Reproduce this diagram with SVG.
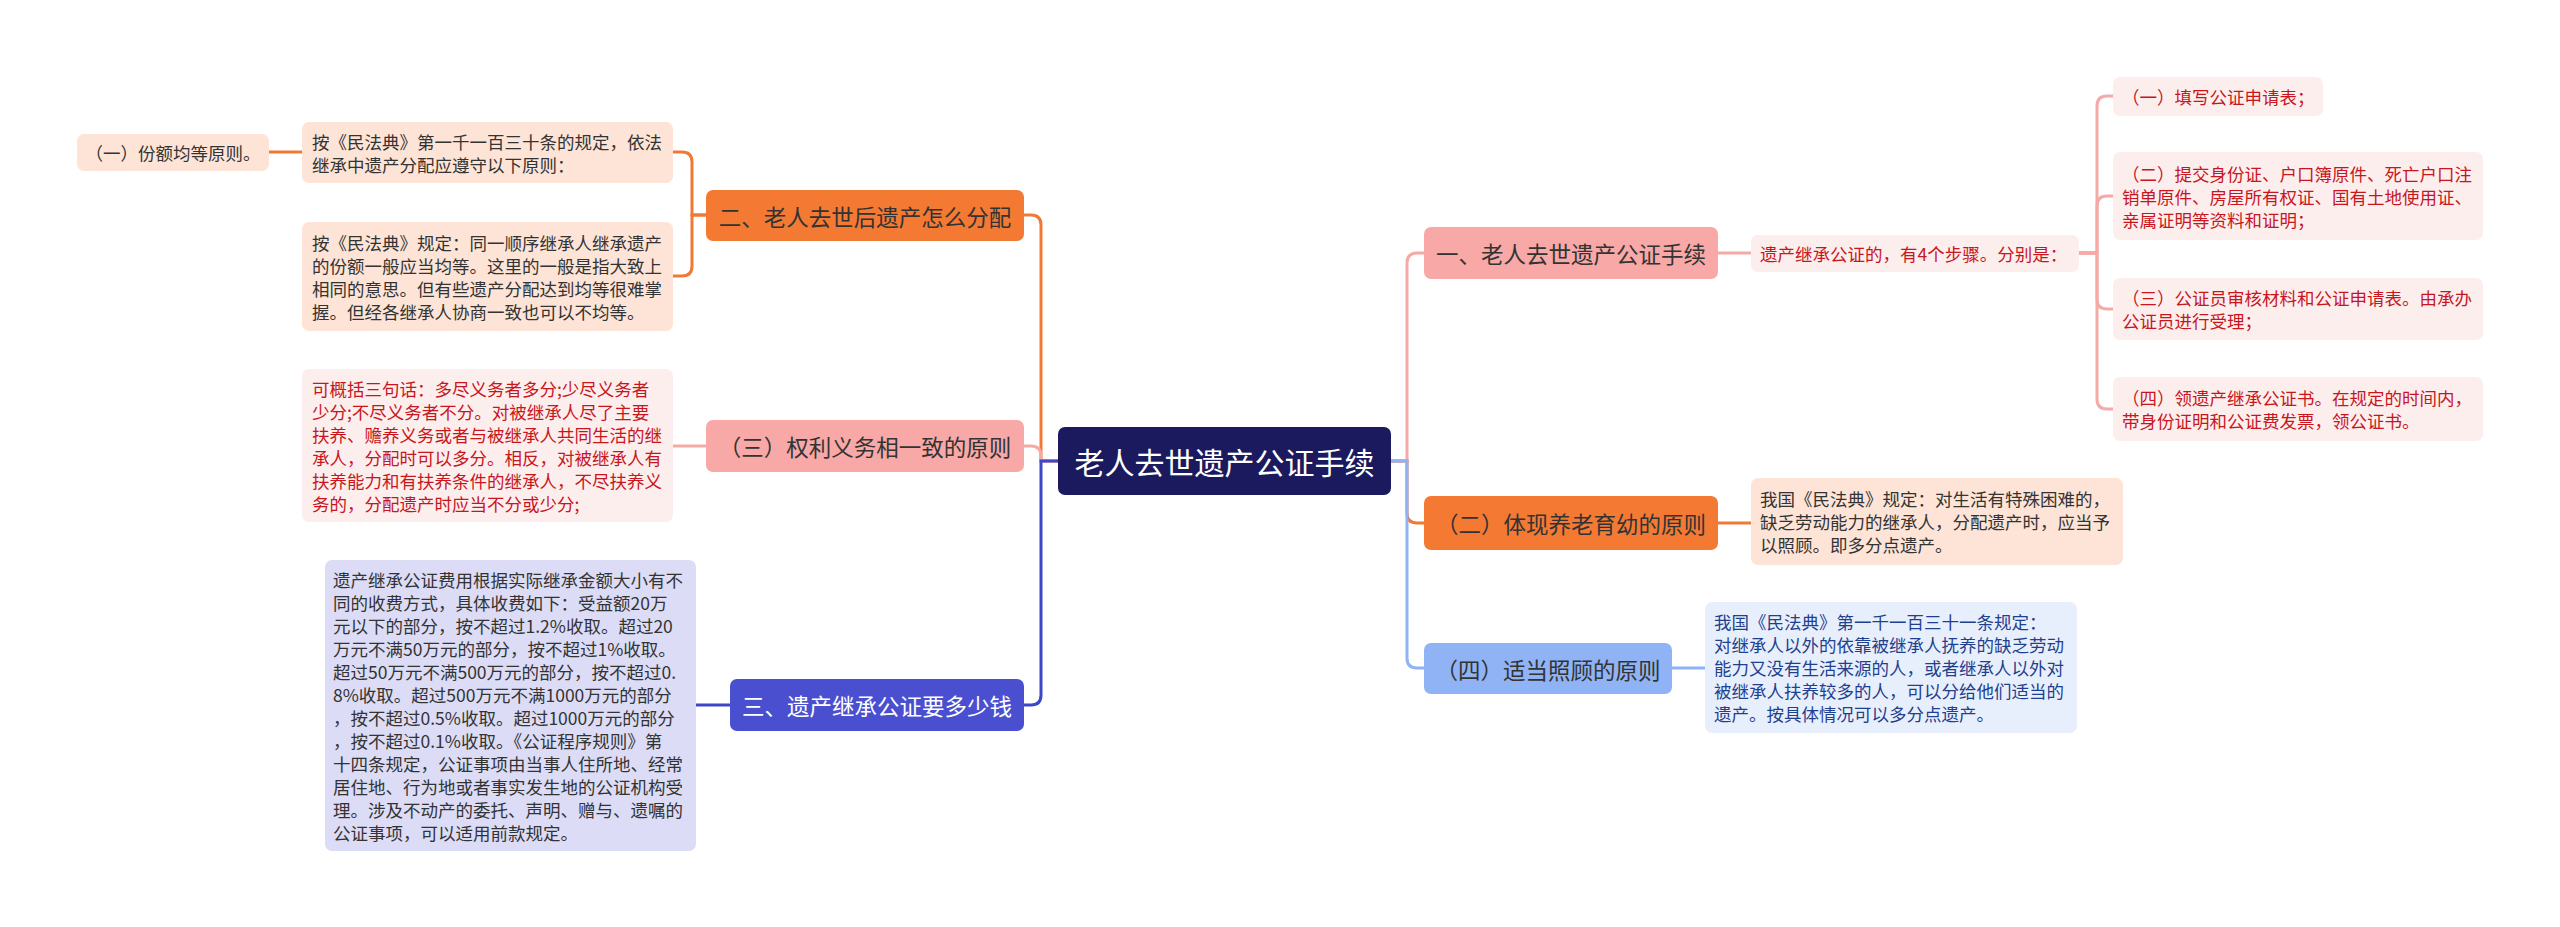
<svg xmlns="http://www.w3.org/2000/svg" width="2560" height="927" viewBox="0 0 2560 927">
<style>
text{font-family:"Noto Sans CJK SC","Noto Sans",sans-serif;dominant-baseline:central}
.root{font-size:30px;fill:#fff;text-anchor:middle}
.br{font-size:22.5px;fill:#333;text-anchor:middle}
.brw{font-size:22.5px;fill:#fff;text-anchor:middle}
.lf{font-size:17.5px;fill:#333}
.lr{font-size:17.5px;fill:#c7161d}
.lb{font-size:17.5px;fill:#1f3f8f}
.c{fill:none;stroke-width:3;stroke-linecap:round}
.co{stroke:#f07a35}.cp{stroke:#f6aaa8}.cb{stroke:#3f46c8}.cl{stroke:#8fb3f5}
.peach{fill:#fde4d6}.lpink{fill:#fdeeee}.lav{fill:#dcdcf6}.lblue{fill:#e8effc}
</style>
<rect width="2560" height="927" fill="#fff"/>
<g id="connectors">
<path class="c co" d="M1058,461 H1041 V225 Q1041,215 1031,215 H1024"/>
<path class="c cp" d="M1058,461 H1041 V456 Q1041,446 1031,446 H1024"/>
<path class="c cb" d="M1058,461 H1041 V695 Q1041,705 1031,705 H1024"/>
<path class="c cp" d="M1391,461 H1407 V263 Q1407,253 1417,253 H1424"/>
<path class="c co" d="M1391,461 H1407 V513 Q1407,523 1417,523 H1424"/>
<path class="c cl" d="M1391,461 H1407 V658 Q1407,668 1417,668 H1424"/>
<path class="c co" d="M706,215 H692 V162 Q692,152 682,152 H673"/>
<path class="c co" d="M706,215 H692 V266 Q692,276 682,276 H673"/>
<path class="c co" d="M302,152 H269"/>
<path class="c cp" d="M706,446 H673"/>
<path class="c cb" d="M730,705 H696"/>
<path class="c cp" d="M1718,253 H1751"/>
<path class="c cp" d="M2079,253 H2097 V106 Q2097,96 2107,96 H2113"/>
<path class="c cp" d="M2079,253 H2097 V206 Q2097,196 2107,196 H2113"/>
<path class="c cp" d="M2079,253 H2097 V299 Q2097,309 2107,309 H2113"/>
<path class="c cp" d="M2079,253 H2097 V399 Q2097,409 2107,409 H2113"/>
<path class="c co" d="M1718,523 H1751"/>
<path class="c cl" d="M1672,668 H1705"/>
</g>
<g id="root">
<rect x="1058" y="427" width="333" height="68" rx="7" fill="#1c1a5e"/>
<text class="root" x="1224.5" y="461">老人去世遗产公证手续</text>
</g>
<g id="b1">
<rect x="706" y="190" width="318" height="51" rx="7" fill="#f47a33"/>
<text class="br" x="865" y="215.5">二、老人去世后遗产怎么分配</text>
</g>
<g id="b1a">
<rect class="peach" x="302" y="122" width="371" height="61" rx="7"/>
<text class="lf" x="312" y="141">按《民法典》第一千一百三十条的规定，依法</text>
<text class="lf" x="312" y="164">继承中遗产分配应遵守以下原则：</text>
</g>
<g id="b1a1">
<rect class="peach" x="77" y="134" width="192" height="37" rx="7"/>
<text class="lf" x="173" y="152.5" text-anchor="middle">（一）份额均等原则。</text>
</g>
<g id="b1b">
<rect class="peach" x="302" y="222" width="371" height="109" rx="7"/>
<text class="lf" x="312" y="242">按《民法典》规定：同一顺序继承人继承遗产</text>
<text class="lf" x="312" y="265">的份额一般应当均等。这里的一般是指大致上</text>
<text class="lf" x="312" y="288">相同的意思。但有些遗产分配达到均等很难掌</text>
<text class="lf" x="312" y="311">握。但经各继承人协商一致也可以不均等。</text>
</g>
<g id="b3">
<rect x="706" y="420" width="318" height="52" rx="7" fill="#f8a8a6"/>
<text class="br" x="865" y="446">（三）权利义务相一致的原则</text>
</g>
<g id="b3a">
<rect class="lpink" x="302" y="369" width="371" height="153" rx="7"/>
<text class="lr" x="312" y="388">可概括三句话：多尽义务者多分;少尽义务者</text>
<text class="lr" x="312" y="411">少分;不尽义务者不分。对被继承人尽了主要</text>
<text class="lr" x="312" y="434">扶养、赡养义务或者与被继承人共同生活的继</text>
<text class="lr" x="312" y="457">承人，分配时可以多分。相反，对被继承人有</text>
<text class="lr" x="312" y="480">扶养能力和有扶养条件的继承人，不尽扶养义</text>
<text class="lr" x="312" y="503">务的，分配遗产时应当不分或少分;</text>
</g>
<g id="b2">
<rect x="730" y="679" width="294" height="52" rx="7" fill="#4a4fd0"/>
<text class="brw" x="877" y="705">三、遗产继承公证要多少钱</text>
</g>
<g id="b2a">
<rect class="lav" x="325" y="560" width="371" height="291" rx="7"/>
<text class="lf" x="333" y="579">遗产继承公证费用根据实际继承金额大小有不</text>
<text class="lf" x="333" y="602">同的收费方式，具体收费如下：受益额20万</text>
<text class="lf" x="333" y="625">元以下的部分，按不超过1.2%收取。超过20</text>
<text class="lf" x="333" y="648">万元不满50万元的部分，按不超过1%收取。</text>
<text class="lf" x="333" y="671">超过50万元不满500万元的部分，按不超过0.</text>
<text class="lf" x="333" y="694">8%收取。超过500万元不满1000万元的部分</text>
<text class="lf" x="333" y="717">，按不超过0.5%收取。超过1000万元的部分</text>
<text class="lf" x="333" y="740">，按不超过0.1%收取。《公证程序规则》第</text>
<text class="lf" x="333" y="763">十四条规定，公证事项由当事人住所地、经常</text>
<text class="lf" x="333" y="786">居住地、行为地或者事实发生地的公证机构受</text>
<text class="lf" x="333" y="809">理。涉及不动产的委托、声明、赠与、遗嘱的</text>
<text class="lf" x="333" y="832">公证事项，可以适用前款规定。</text>
</g>
<g id="r1">
<rect x="1424" y="227" width="294" height="52" rx="7" fill="#f8a8a6"/>
<text class="br" x="1571" y="253">一、老人去世遗产公证手续</text>
</g>
<g id="r1a">
<rect class="lpink" x="1751" y="235" width="328" height="37" rx="7"/>
<text class="lr" x="1760" y="253.5">遗产继承公证的，有4个步骤。分别是：</text>
</g>
<g id="s1">
<rect class="lpink" x="2113" y="77" width="210" height="39" rx="7"/>
<text class="lr" x="2122" y="96.5">（一）填写公证申请表；</text>
</g>
<g id="s2">
<rect class="lpink" x="2113" y="152" width="370" height="88" rx="7"/>
<text class="lr" x="2122" y="173">（二）提交身份证、户口簿原件、死亡户口注</text>
<text class="lr" x="2122" y="196">销单原件、房屋所有权证、国有土地使用证、</text>
<text class="lr" x="2122" y="219">亲属证明等资料和证明；</text>
</g>
<g id="s3">
<rect class="lpink" x="2113" y="278" width="370" height="62" rx="7"/>
<text class="lr" x="2122" y="297.5">（三）公证员审核材料和公证申请表。由承办</text>
<text class="lr" x="2122" y="320.5">公证员进行受理；</text>
</g>
<g id="s4">
<rect class="lpink" x="2113" y="377" width="370" height="64" rx="7"/>
<text class="lr" x="2122" y="397.5">（四）领遗产继承公证书。在规定的时间内，</text>
<text class="lr" x="2122" y="420.5">带身份证明和公证费发票，领公证书。</text>
</g>
<g id="r2">
<rect x="1424" y="496" width="294" height="54" rx="7" fill="#f47a33"/>
<text class="br" x="1571" y="523">（二）体现养老育幼的原则</text>
</g>
<g id="r2a">
<rect class="peach" x="1751" y="478" width="372" height="87" rx="7"/>
<text class="lf" x="1760" y="498.5">我国《民法典》规定：对生活有特殊困难的，</text>
<text class="lf" x="1760" y="521.5">缺乏劳动能力的继承人，分配遗产时，应当予</text>
<text class="lf" x="1760" y="544.5">以照顾。即多分点遗产。</text>
</g>
<g id="r3">
<rect x="1424" y="643" width="248" height="51" rx="7" fill="#8fb3f5"/>
<text class="br" x="1548" y="668.5">（四）适当照顾的原则</text>
</g>
<g id="r3a">
<rect class="lblue" x="1705" y="602" width="372" height="131" rx="7"/>
<text class="lb" x="1714" y="621.5">我国《民法典》第一千一百三十一条规定：</text>
<text class="lb" x="1714" y="644.5">对继承人以外的依靠被继承人抚养的缺乏劳动</text>
<text class="lb" x="1714" y="667.5">能力又没有生活来源的人，或者继承人以外对</text>
<text class="lb" x="1714" y="690.5">被继承人扶养较多的人，可以分给他们适当的</text>
<text class="lb" x="1714" y="713.5">遗产。按具体情况可以多分点遗产。</text>
</g>
</svg>
